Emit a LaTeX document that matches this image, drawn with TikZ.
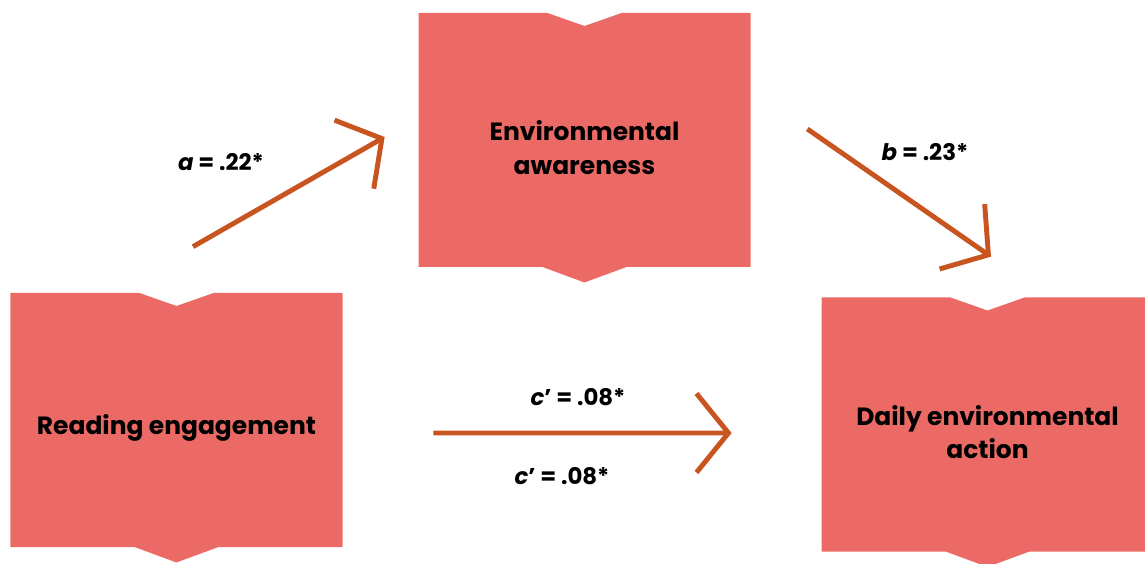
\documentclass[tikz,border=0pt]{standalone}
\usepackage{fontspec}
\setmainfont{Poppins}
\usetikzlibrary{arrows.meta}
\usetikzlibrary{backgrounds}
\definecolor{boxred}{RGB}{235,106,101}
\definecolor{pathorange}{RGB}{200,84,32}
\tikzset{factor/.style={minimum width=6.64cm,minimum height=4.78cm,
                        align=center,font=\fontsize{14.2}{19}\selectfont\bfseries}}
\tikzset{effect/.style={draw=pathorange,line width=2.8pt,
                        -{Straight Barb[length=6.4mm,width=15.8mm]}}}
\tikzset{coef/.style={font=\fontsize{13}{15}\selectfont\bfseries}}

\begin{document}
\begin{tikzpicture}

    \useasboundingbox (0,0) rectangle (22.9,11.26);

    % factors
    \node[factor] (aware) at (11.69,8.31) {Environmental\\awareness};
    \node[factor] (read) at (3.53,2.71) {Reading engagement};
    \node[factor] (action) at (19.75,2.62) {Daily environmental\\action};

    % notched shapes behind the texts
    \begin{scope}[on background layer]
      \clip (0,0) rectangle (22.9,11.26);
      \foreach \n in {aware,read,action}{
        \fill[boxred,shift={([yshift=1.5mm]\n.center)}]
          (-3.32,2.54) -- (-0.74,2.54) -- (0,2.28) -- (0.74,2.54)
          -- (3.32,2.54) -- (3.32,-2.54) -- (0.84,-2.54) -- (0,-2.85)
          -- (-0.84,-2.54) -- (-3.32,-2.54) -- cycle;
      }
    \end{scope}

    % ends of the paths
    \coordinate (a0) at ([xshift=0.33cm,yshift=1.22cm]read.north);
    \coordinate (a1) at ([xshift=-0.67cm,yshift=0.21cm]aware.west);
    \coordinate (b0) at ([xshift=1.13cm,yshift=0.37cm]aware.east);
    \coordinate (b1) at ([xshift=0.07cm,yshift=1.11cm]action.north);
    \coordinate (c0) at ([xshift=1.81cm,yshift=-0.11cm]read.east);
    \coordinate (c1) at ([xshift=-1.79cm,yshift=-0.02cm]action.west);

    \draw[effect] (a0) -- (a1);
    \draw[effect] (b0) -- (b1);
    \draw[effect] (c0) -- (c1);

    % coefficients
    \node[coef] (ca) at (4.42,8.02) {\textit{a} = .22*};
    \node[coef] (cb) at (18.50,8.22) {\textit{b} = .23*};
    \node[coef] (cc1) at (11.56,3.32) {\textit{c}’ = .08*};
    \node[coef] (cc2) at (11.24,1.74) {\textit{c}’ = .08*};
\end{tikzpicture}
\end{document}
